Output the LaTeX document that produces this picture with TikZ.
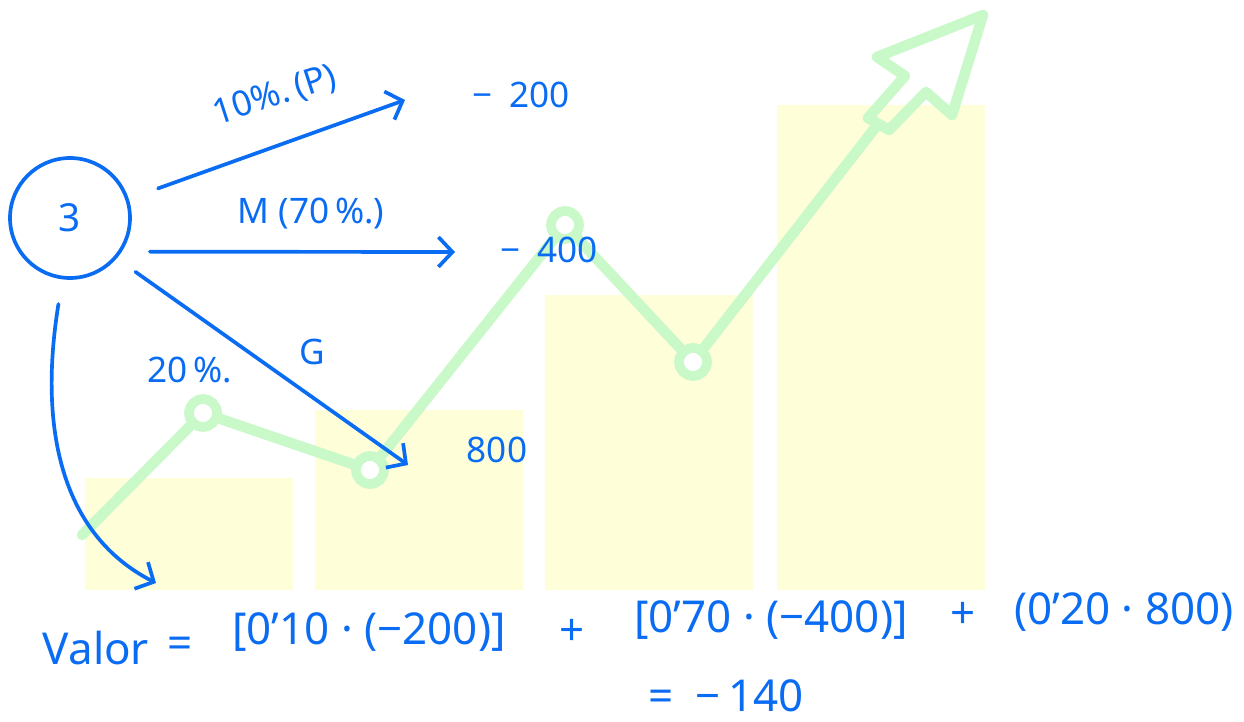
\documentclass[tikz,border=0pt]{standalone}
\usepackage{fontspec}
\setmainfont{Noto Sans}
\usepackage{tikz}
\usetikzlibrary{
  arrows.meta,
  positioning,
  calc
}
\definecolor{InkBlue}{HTML}{0A6CF2}
\definecolor{BarYellow}{HTML}{FEFED9}
\definecolor{TrendGreen}{HTML}{C9F8C9}

\begin{document}
\begin{tikzpicture}[
  x=0.02cm,
  y=-0.02cm,
  ink/.style={
    draw=InkBlue,
    line width=2.1pt,
    line cap=round,
    line join=round
  },
  branch/.style={ink,-{Straight Barb[length=8pt,width=17pt]}},
  hand/.style={text=InkBlue,inner sep=1pt,font=\fontsize{20}{22}\selectfont},
  sum/.style={hand,font=\fontsize{25}{27}\selectfont},
  bar/.style={fill=BarYellow,draw=none},
  trend/.style={
    draw=TrendGreen,
    line width=6pt,
    line cap=round,
    line join=round
  },
  dot/.style={
    circle,
    draw=TrendGreen,
    fill=white,
    line width=5.5pt,
    inner sep=0pt,
    minimum size=0.56cm
  },
  decision/.style={
    circle,
    ink,
    minimum size=2.4cm,
    text=InkBlue,
    font=\fontsize{22}{24}\selectfont
  }
]
\useasboundingbox (0,0) rectangle (1244,722);

% faded chart behind the notes
\foreach \x/\top in {85/478,315/410,545/295,777/105}
  \fill[bar] (\x,\top) rectangle (\x+208,590);

\coordinate (g0) at (82,535);
\node[dot] (d1) at (203,413) {};
\node[dot] (d2) at (370,470) {};
\node[dot] (d3) at (565,225) {};
\node[dot] (d4) at (693,362) {};
\coordinate (headbase) at (878,124);

\draw[trend] (g0) -- (d1) -- (d2) -- (d3) -- (d4) -- (headbase);
\draw[trend] (868,118) -- (905,76) -- (877,57) -- (983,15)
  -- (952,115) -- (926,92) -- (889,130) -- cycle;

% decision node and branches
\node[decision] (dec) at (70,218) {3};

\node[hand] (v200) at (521,95) {−\enspace200};
\node[hand] (v400) at (549,250) {−\enspace400};
\node[hand] (v800) at (497,450) {800};

\coordinate (pend) at (405,100);
\coordinate (mend) at (455,252);
\coordinate (gend) at (408,465);
\coordinate (sumend) at (156,583);

\draw[branch,shorten <=0.62cm] (dec.18) -- (pend);
\draw[branch,shorten <=0.56cm] (dec.-33) -- (mend);
\draw[branch,shorten <=0.46cm] (dec.-41) -- (gend);
\draw[branch,shorten <=0.5cm] (dec.-97)
  .. controls (38,430) and (62,535) .. (sumend);

\node[hand,rotate=18] (lp) at (275,96) {10\%.\,(P)};
\node[hand] (lm) at (311,214) {M (70\,\%.)};
\node[hand] (lg) at (312,352) {G};
\node[hand] (l20) at (190,370) {20\,\%.};

% expected value
\node[sum] (valor) at (96,648) {Valor};
\node[sum] (eq) at (180,648) {=};
\node[sum] (t1) at (369,632) {[0'10 · (−200)]};
\node[sum] (p1) at (572,632) {+};
\node[sum] (t2) at (771,620) {[0'70 · (−400)]};
\node[sum] (p2) at (963,615) {+};
\node[sum] (t3) at (1124,612) {(0'20 · 800)};
\node[sum] (res) at (726,696) {=\enspace −\,140};
\end{tikzpicture}
\end{document}
